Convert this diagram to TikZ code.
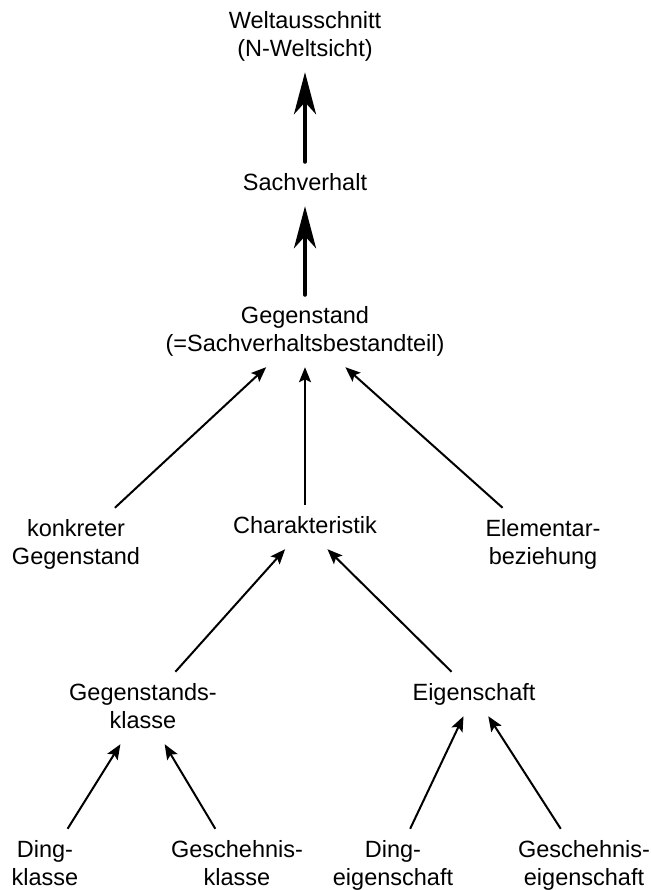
\documentclass[tikz,border=0pt]{standalone}
\usepackage{fontspec}
\setmainfont{Liberation Sans}
\usetikzlibrary{arrows.meta}

\newcommand{\zl}{\vrule height 17pt depth 5pt width 0pt}

\tikzset{
    begriff/.style={align=center, inner xsep=4pt, inner ysep=11pt,
        font=\fontsize{23.5}{28}\selectfont},
    pfeil/.style={line width=2pt, -{Stealth[length=15pt,width=12pt,inset=3pt]}},
    dickpfeil/.style={line width=4pt, line cap=round,
        -{Stealth[length=42pt,width=22pt,inset=12pt]}}
}

\begin{document}
\begin{tikzpicture}[x=1pt,y=-1pt]
        \useasboundingbox (0,0) rectangle (650,890);

        % Oben
        \node[begriff] (welt) at (305,36) {\zl Weltausschnitt\\\zl (N-Weltsicht)};
        \node[begriff] (sach) at (305,184) {\zl Sachverhalt};
        \node[begriff] (geg) at (305,331) {\zl Gegenstand\\\zl (=Sachverhaltsbestandteil)};

        \draw[dickpfeil] (sach) -- (welt);
        \draw[dickpfeil] (geg) -- (sach);

        % Mitte
        \node[begriff] (konk) at (76,544) {\zl konkreter\\\zl Gegenstand};
        \node[begriff] (char) at (305,527) {\zl Charakteristik};
        \node[begriff] (elem) at (543,544) {\zl Elementar-\\\zl beziehung};

        \draw[pfeil] (konk) -- (geg);
        \draw[pfeil] (char) -- (geg);
        \draw[pfeil] (elem) -- (geg);

        \node[begriff] (gkl) at (143,708) {\zl Gegenstands-\\\zl klasse};
        \node[begriff] (eig) at (474,694) {\zl Eigenschaft};

        \draw[pfeil] (gkl) -- (char);
        \draw[pfeil] (eig) -- (char);

        % Unten
        \node[begriff] (dkl) at (45,865) {\zl Ding-\\\zl klasse};
        \node[begriff] (gsk) at (237,865) {\zl Geschehnis-\\\zl klasse};
        \node[begriff] (deig) at (393,865) {\zl Ding-\\\zl eigenschaft};
        \node[begriff] (geig) at (584,865) {\zl Geschehnis-\\\zl eigenschaft};

        \draw[pfeil] (dkl) -- (gkl);
        \draw[pfeil] (gsk) -- (gkl);
        \draw[pfeil] (deig) -- (eig);
        \draw[pfeil] (geig) -- (eig);
\end{tikzpicture}
\end{document}
